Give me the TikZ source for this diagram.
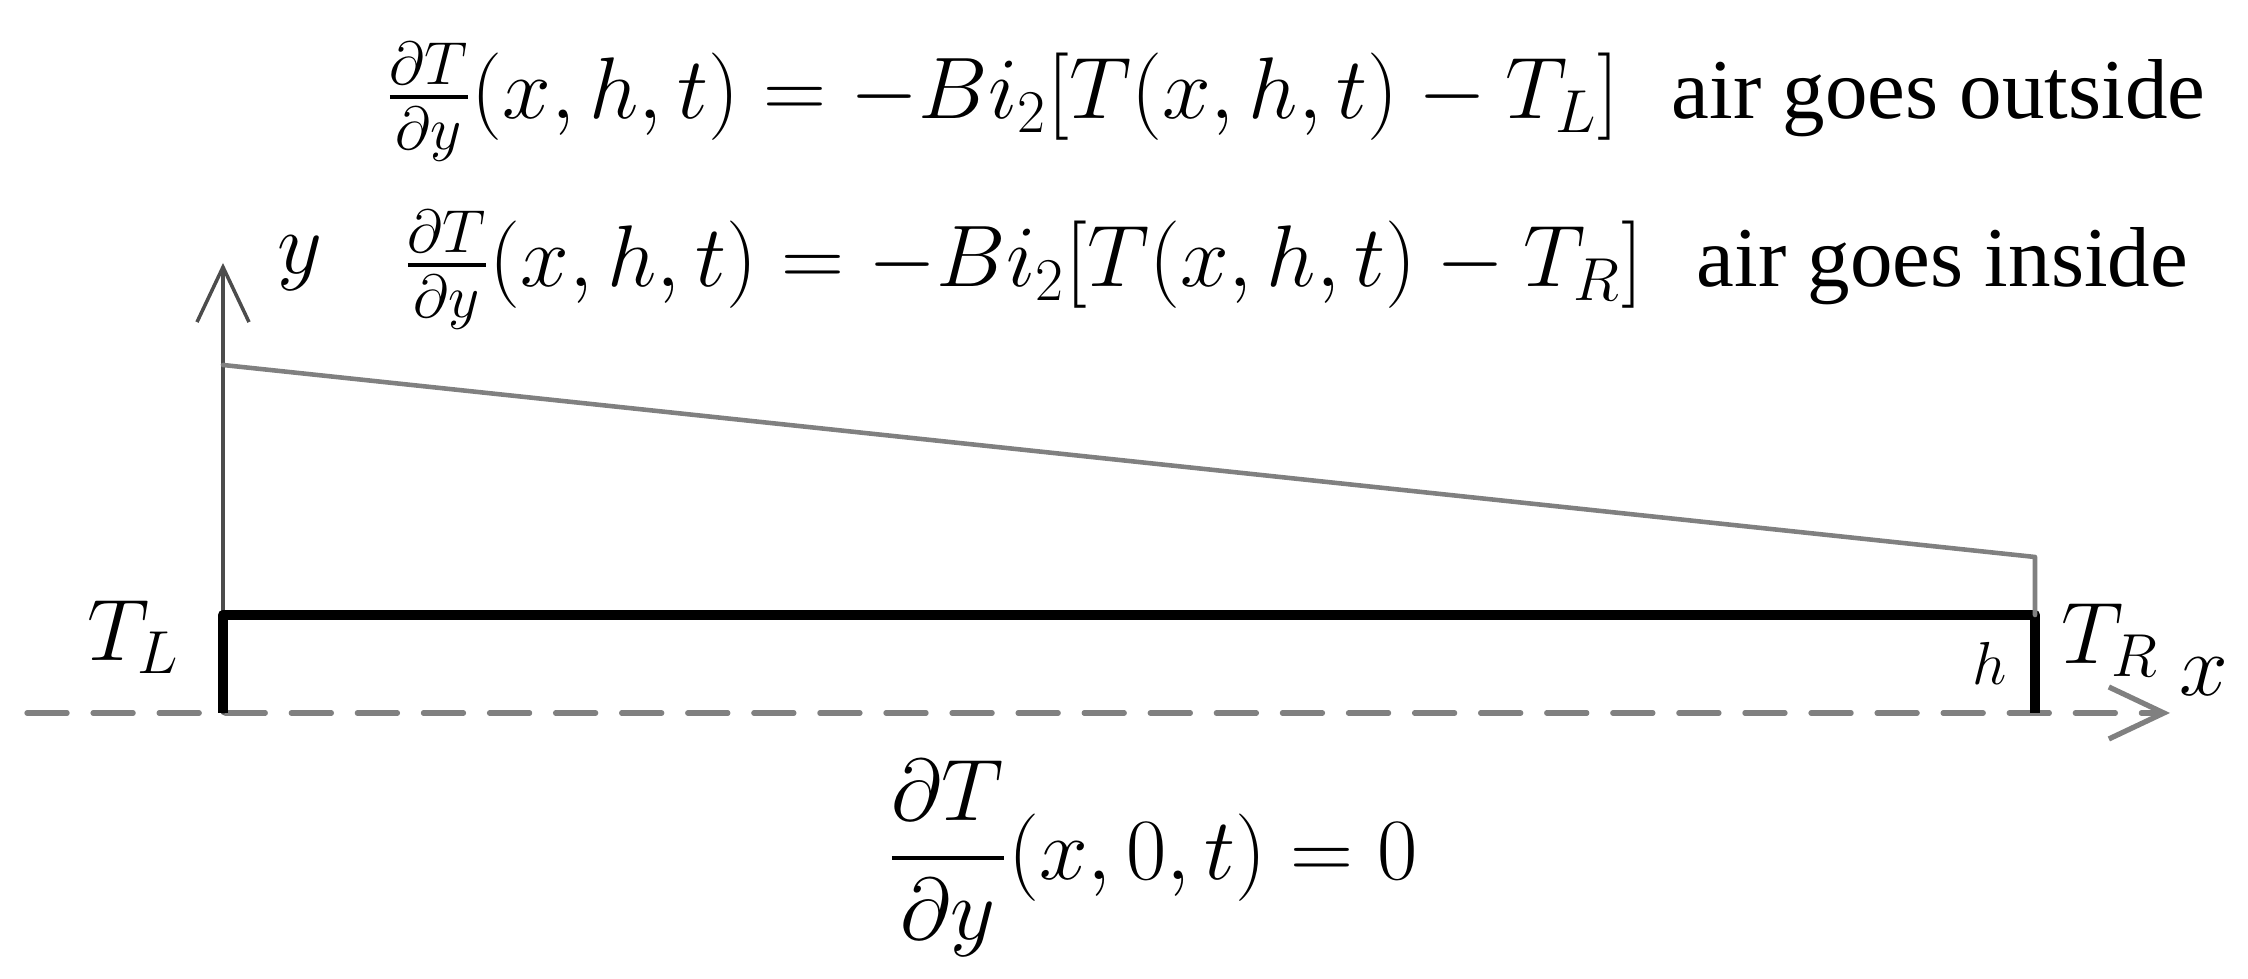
\documentclass[tikz,border=0pt]{standalone}
\usepackage{amsmath}
\usepackage{fontspec}
\setmainfont{Liberation Serif}
\newfontfamily\airfont{Liberation Serif}
\usetikzlibrary{arrows.meta}
\begin{document}
\begin{tikzpicture}[font=\fontsize{23}{28}\selectfont, line join=round, line cap=round,
		>={Straight Barb[length=5.5mm,width=5.2mm]},
		axisline/.style={draw=gray!60!black, line width=1pt},
		slabline/.style={draw=black, line width=3pt, line cap=butt},
		profline/.style={draw=gray, line width=1.3pt},
		bctext/.style={inner sep=0pt},
		airtext/.style={inner sep=0pt, font=\airfont\fontsize{24.2}{29}\selectfont}]
		\useasboundingbox (0,0) rectangle (22.48,9.79);
		\path
		(0.27,2.66) coordinate (W)
		(21.70,2.66) coordinate (E)
		(2.23,2.66) coordinate (O)
		(2.23,3.64) coordinate (A)
		(20.35,3.64) coordinate (B)
		(20.35,2.66) coordinate (C)
		(2.23,7.16) coordinate (Y)
		(2.23,6.14) coordinate (P)
		(20.35,4.22) coordinate (Q)
		;
		% axes
		\draw[->, gray, line width=1.5pt, dash pattern=on 11.4pt off 7.4pt] (W)--(E);
		\draw[->, axisline] (O)--(Y);
		% slab and profile
		\draw[slabline] (O)--(A)--(B)--(C);
		\draw[profline] (P)--(Q)--(B);
		\foreach \n/\p/\t in {ylab/{3.00,7.16}/y, xlab/{22.04,3.02}/x, TL/{1.34,3.42}/T_L, TR/{21.10,3.39}/T_R}
		\node (\n) at (\p) {$\t$};
		\node[font=\fontsize{19}{21}\selectfont] (hlab) at (19.90,3.16) {$h$};
		% boundary conditions
		\node[bctext, anchor=base west] (bcout) at (3.85,8.60) {$\tfrac{\partial T}{\partial y}(x,h,t)=-Bi_2[T(x,h,t)-T_L]$};
		\node[airtext, anchor=base west] (txout) at (16.71,8.60) {air goes outside};
		\node[bctext, anchor=base west] (bcin) at (4.03,6.92) {$\tfrac{\partial T}{\partial y}(x,h,t)=-Bi_2[T(x,h,t)-T_R]$};
		\node[airtext, anchor=base west] (txin) at (16.96,6.92) {air goes inside};
		\node[bctext, anchor=base west] (bcbot) at (8.87,0.99) {$\dfrac{\partial T}{\partial y}(x,0,t)=0$};
\end{tikzpicture}
\end{document}
